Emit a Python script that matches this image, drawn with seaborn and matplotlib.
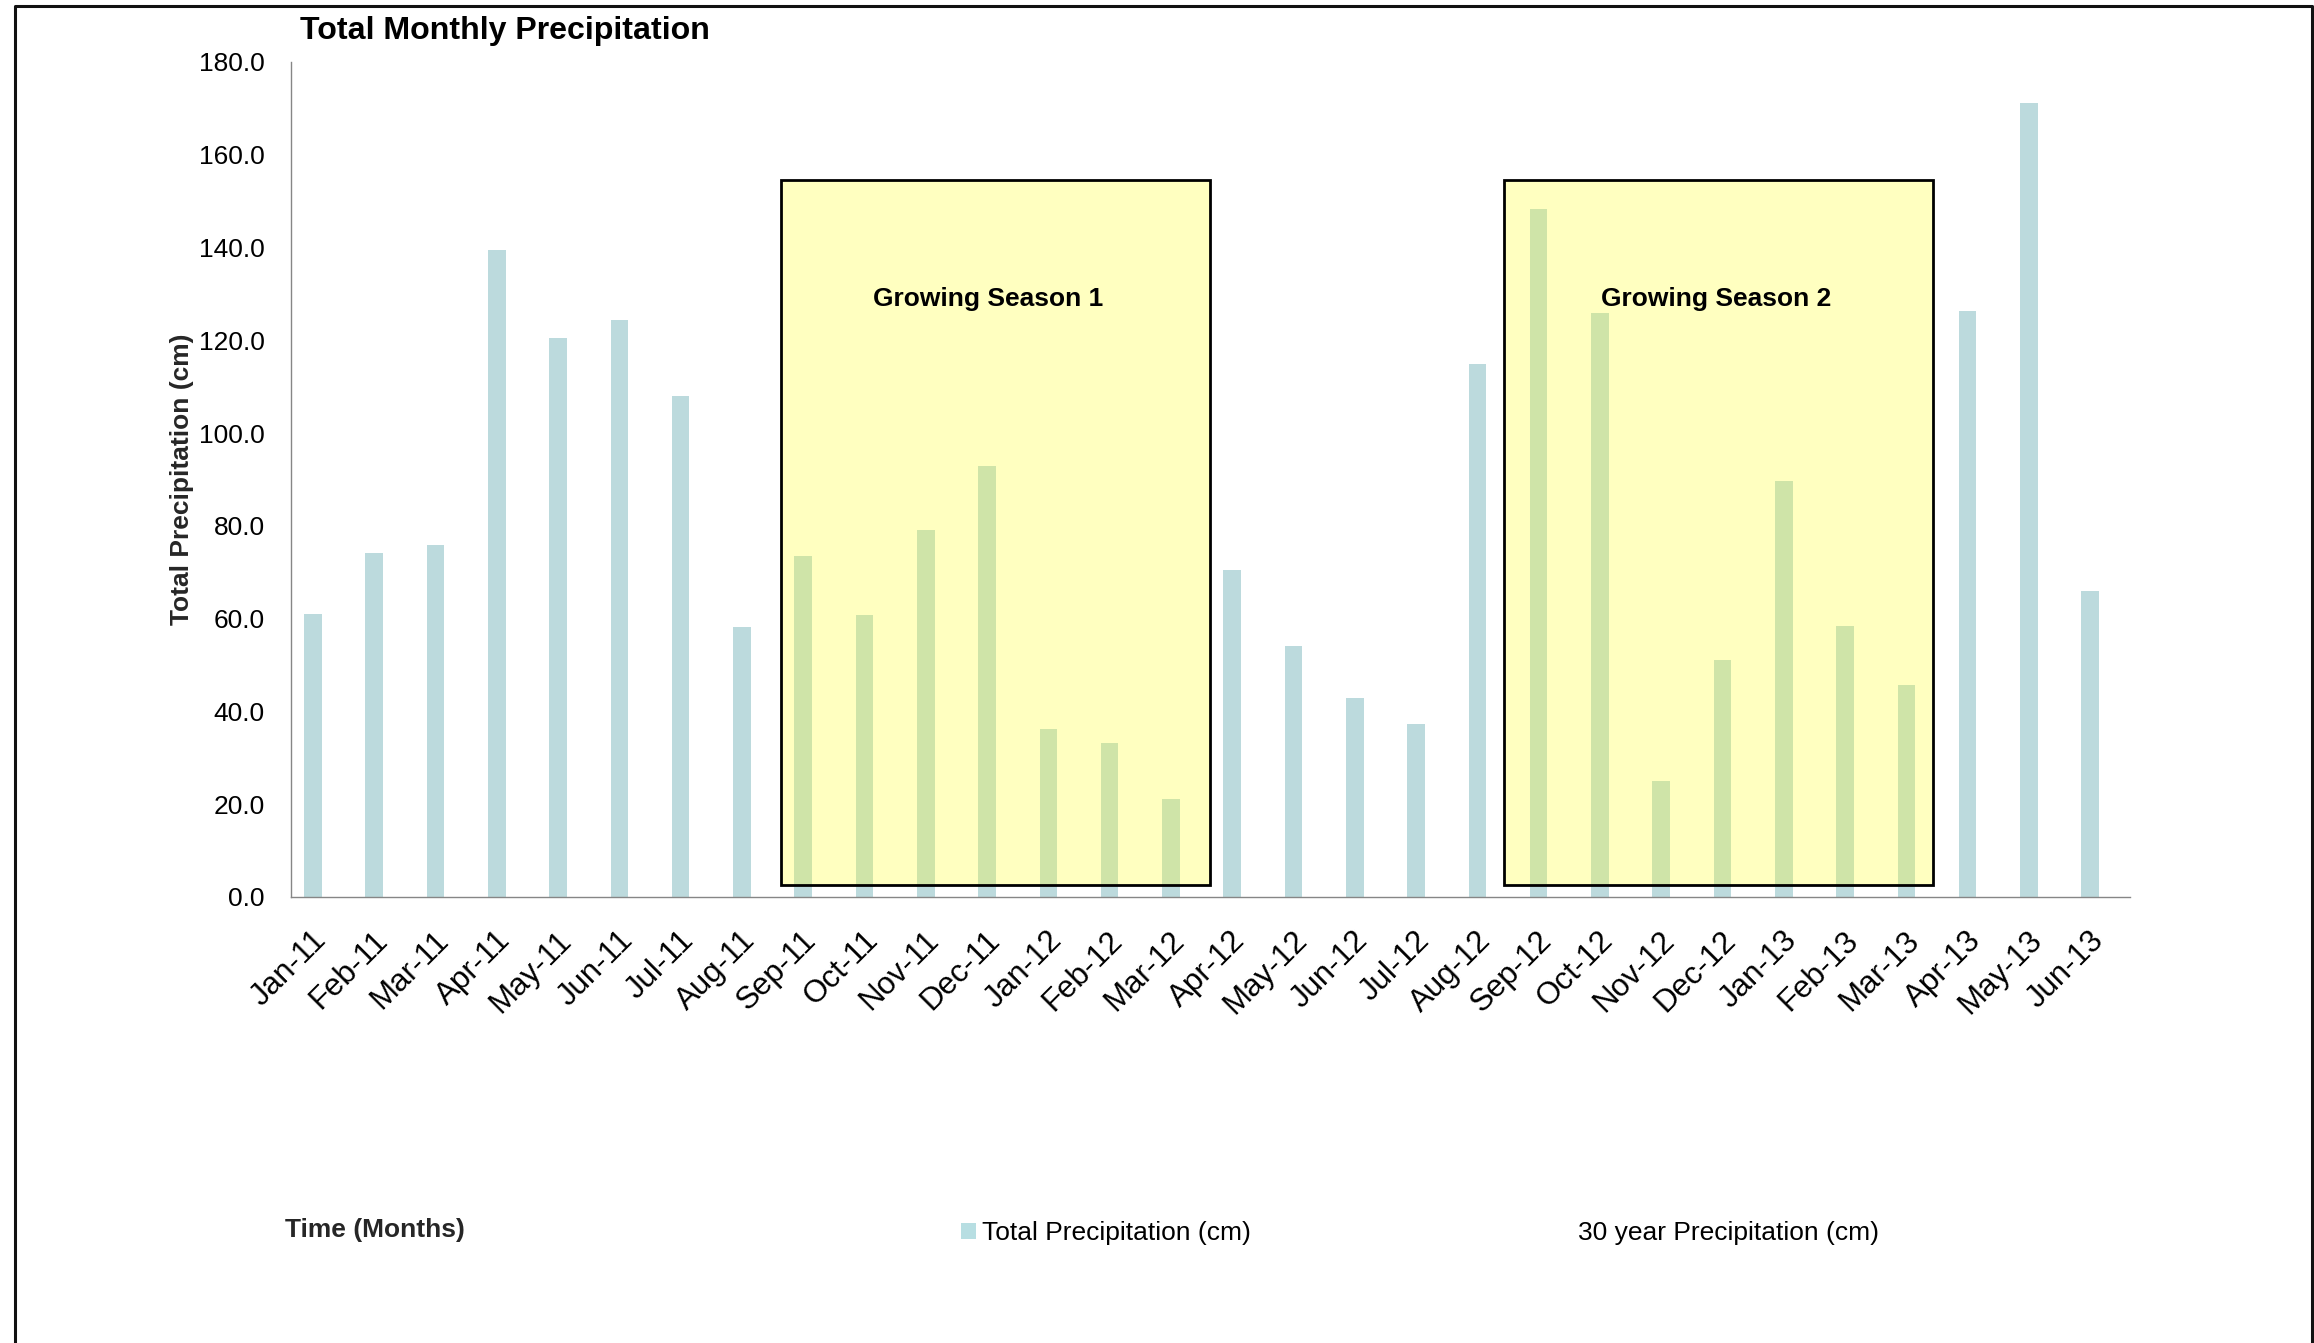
import numpy as np
import pandas as pd
import matplotlib
matplotlib.use("Agg")
import matplotlib.pyplot as plt
from matplotlib.patches import Rectangle, Patch
from matplotlib.lines import Line2D
import seaborn as sns

# ---- data -------------------------------------------------------------
months = ["Jan-11", "Feb-11", "Mar-11", "Apr-11", "May-11", "Jun-11",
          "Jul-11", "Aug-11", "Sep-11", "Oct-11", "Nov-11", "Dec-11",
          "Jan-12", "Feb-12", "Mar-12", "Apr-12", "May-12", "Jun-12",
          "Jul-12", "Aug-12", "Sep-12", "Oct-12", "Nov-12", "Dec-12",
          "Jan-13", "Feb-13", "Mar-13", "Apr-13", "May-13", "Jun-13"]
total_precip = [61.1, 74.2, 75.8, 139.4, 120.6, 124.4,
                107.9, 58.3, 73.5, 60.8, 79.2, 92.9,
                36.2, 33.3, 21.1, 70.4, 54.2, 43.0,
                37.2, 115.0, 148.3, 125.9, 25.0, 51.0,
                89.6, 58.5, 45.7, 126.3, 171.2, 66.0]
series_names = ["Total Precipitation (cm)", "30 year Precipitation (cm)"]
y_ticks = [0, 20, 40, 60, 80, 100, 120, 140, 160, 180]

season_labels = ["Growing Season 1", "Growing Season 2"]
season_first = ["Sep-11", "Sep-12"]
season_last = ["Mar-12", "Mar-13"]

# ---- style ------------------------------------------------------------
BAR = "#B7DEE2"
AXIS_GREY = "#868686"
FONT = ["Liberation Sans", "DejaVu Sans"]

sns.set_style("white")
plt.rcParams["font.family"] = FONT
plt.rcParams["text.color"] = "black"

df = pd.DataFrame({"month": months, "value": total_precip,
                   "series": series_names[0]})

W, H = 2314, 1343
fig = plt.figure(figsize=(W / 100, H / 100), dpi=100)
ax = fig.add_axes([291 / W, 1 - 897 / H, (2129.6 - 291) / W, (897 - 62) / H])

sns.barplot(data=df, x="month", y="value", hue="series",
            hue_order=series_names, order=months,
            palette={series_names[0]: BAR, series_names[1]: "white"},
            width=0.572, dodge=True, linewidth=0, legend=False,
            errorbar=None, ax=ax, zorder=2)

n = len(months)
ax.set_xlim(-0.5, n - 0.5)
ax.set_ylim(0, 180)
ax.set_yticks(y_ticks)
ax.set_yticklabels([f"{v:.1f}" for v in y_ticks], fontsize=19)

# category labels at centres, tick marks at category boundaries
ax.set_xticks(np.arange(n))
ax.set_xticklabels(months, fontsize=22.5, rotation=45, ha="right",
                   va="center", rotation_mode="anchor")
ax.set_xticks(np.arange(n + 1) - 0.5, minor=True)
ax.tick_params(axis="x", which="major", length=0, pad=28)
ax.tick_params(axis="x", which="minor", length=8, width=1.0,
               color=AXIS_GREY, direction="out")
ax.tick_params(axis="y", which="major", length=8, width=1.0,
               color=AXIS_GREY, direction="out", pad=11)
ax.tick_params(labelcolor="black")

for side in ("top", "right"):
    ax.spines[side].set_visible(False)
for side in ("left", "bottom"):
    ax.spines[side].set_color(AXIS_GREY)
    ax.spines[side].set_linewidth(1.0)

ax.set_ylabel("Total Precipitation (cm)", fontsize=19, fontweight="bold")
ax.yaxis.set_label_coords(-0.053, 0.5)
ax.set_xlabel("Time (Months)", fontsize=19, fontweight="bold",
              ha="left", va="center")
ax.xaxis.set_label_coords(-0.003, -0.399)

# growing-season boxes
box_shift = [0.0, -0.21]
text_shift = [-0.13, -0.03]
for label, first, last, shift, tshift in zip(season_labels, season_first,
                                             season_last, box_shift,
                                             text_shift):
    x0 = months.index(first) - 0.5 + shift
    x1 = months.index(last) + 0.5 + shift
    ax.add_patch(Rectangle((x0, 2.5), x1 - x0, 152.1,
                           facecolor=(1.0, 1.0, 39 / 255, 0.29),
                           edgecolor="black", linewidth=2.0, zorder=3))
    ax.text((x0 + x1) / 2 + tshift, 129, label, fontsize=19,
            fontweight="bold", ha="center", va="center", zorder=4)

# title
fig.text(300 / W, 1 - 31 / H, "Total Monthly Precipitation",
         fontsize=23.1, fontweight="bold", ha="left", va="center")

# legend
handles = [Patch(facecolor=BAR, edgecolor="none"),
           Patch(facecolor="none", edgecolor="none")]
fig.legend(handles, series_names, ncol=2, loc="center left",
           bbox_to_anchor=(961 / W, 1 - 1233 / H), frameon=False,
           fontsize=19, handlelength=0.55, handleheight=0.55,
           handletextpad=0.25, columnspacing=11.6, borderpad=0,
           borderaxespad=0)

# outer frame (open at the bottom)
l, r, t = 14.5 / W, 2312 / W, 1 - 5.5 / H
fig.add_artist(Line2D([l, l, r, r], [0, t, t, 0], transform=fig.transFigure,
                      color="#111111", linewidth=2.2))

fig.savefig("out.png", dpi=100, facecolor="white")
